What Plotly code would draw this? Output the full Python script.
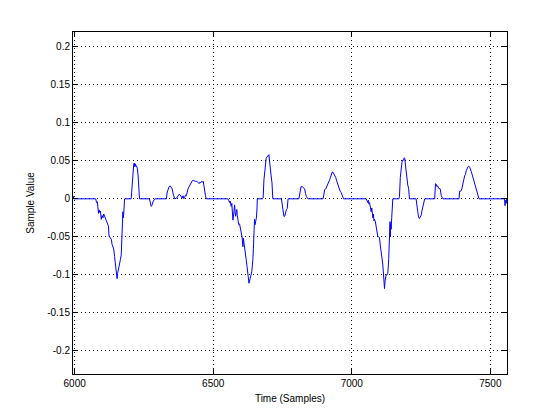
import plotly.graph_objects as go

# ---- data (sample index, sample value) ----
cycle1_x = [5994, 5996, 5997, 6076, 6079, 6082, 6084, 6086, 6088, 6091, 6093, 6096, 6099, 6102, 6105, 6108,
            6112, 6116, 6120, 6122, 6124, 6128, 6132, 6135, 6138, 6141, 6144, 6147, 6150, 6153, 6155, 6158,
            6160, 6162, 6165, 6168, 6170, 6172, 6174, 6175, 6177, 6178, 6180, 6204, 6206, 6208, 6211, 6213,
            6215, 6217, 6219, 6221, 6224, 6226, 6229, 6231, 6234, 6270, 6273, 6276, 6278, 6281, 6284, 6289,
            6331, 6334, 6337, 6341, 6345, 6349, 6352, 6355, 6359, 6361, 6368, 6373, 6377, 6381, 6385, 6388,
            6391, 6394, 6397, 6400, 6403, 6406, 6409, 6413, 6417, 6421, 6425, 6430, 6435, 6441, 6445, 6449,
            6452, 6455, 6458, 6462, 6464, 6467, 6469, 6472, 6475]
cycle1_y = [0.002, 0.003, 0.0, 0.0, -0.005, -0.004, -0.012, -0.019, -0.0145, -0.018, -0.016, -0.027, -0.022, -0.025, -0.020, -0.023,
            -0.028, -0.030, -0.035, -0.036, -0.049, -0.051, -0.053, -0.060, -0.065, -0.066, -0.076, -0.086, -0.100, -0.105, -0.098, -0.093,
            -0.088, -0.089, -0.080, -0.074, -0.060, -0.041, -0.017, -0.025, -0.020, -0.012, 0.0, 0.0, 0.010, 0.027, 0.037, 0.045,
            0.047, 0.042, 0.046, 0.043, 0.043, 0.040, 0.030, 0.021, 0.0, 0.0, -0.006, -0.010, -0.009, -0.004, -0.003, 0.0,
            0.0, 0.009, 0.013, 0.016, 0.017, 0.014, 0.013, 0.007, 0.002, 0.0, 0.001, 0.004, 0.006, 0.005, 0.002, 0.001,
            0.004, 0.0, 0.002, 0.005, 0.004, 0.010, 0.013, 0.016, 0.019, 0.022, 0.024, 0.024, 0.023, 0.023, 0.021, 0.020,
            0.022, 0.021, 0.023, 0.022, 0.023, 0.014, 0.010, 0.004, 0.0]

cycle2_x = [6553, 6556, 6559, 6561, 6563, 6565, 6567, 6569, 6571, 6574, 6577, 6579, 6581, 6583, 6585, 6587,
            6589, 6592, 6595, 6598, 6601, 6604, 6607, 6609, 6611, 6613, 6616, 6619, 6622, 6625, 6627, 6629,
            6631, 6633, 6636, 6639, 6641, 6643, 6645, 6646, 6648, 6649, 6651, 6653, 6656, 6658, 6659, 6677,
            6680, 6683, 6686, 6688, 6691, 6694, 6697, 6701, 6703, 6706, 6709, 6712, 6715, 6746, 6749, 6752,
            6755, 6758, 6761, 6764, 6767, 6770, 6809, 6812, 6814, 6817, 6821, 6825, 6830, 6833, 6836, 6842,
            6896, 6899, 6902, 6906, 6910, 6915, 6920, 6923, 6926, 6929, 6932, 6935, 6938, 6942, 6946, 6950,
            6954, 6958, 6962, 6966, 6970]
cycle2_y = [0.0, -0.002, -0.005, -0.003, -0.008, -0.010, -0.006, -0.020, -0.028, -0.020, -0.008, -0.018, -0.023, -0.017, -0.014, -0.022,
            -0.026, -0.034, -0.033, -0.039, -0.041, -0.050, -0.063, -0.052, -0.058, -0.066, -0.078, -0.080, -0.089, -0.100, -0.104, -0.111,
            -0.108, -0.103, -0.101, -0.096, -0.090, -0.080, -0.065, -0.050, -0.035, -0.027, -0.034, -0.030, -0.024, -0.012, 0.0, 0.0,
            0.001, 0.025, 0.040, 0.051, 0.053, 0.055, 0.056, 0.058, 0.050, 0.034, 0.030, 0.021, 0.0, 0.0, -0.008, -0.019,
            -0.023, -0.023, -0.018, -0.014, -0.013, 0.0, 0.0, 0.008, 0.013, 0.016, 0.016, 0.015, 0.013, 0.007, 0.003, 0.0,
            0.0, 0.005, 0.012, 0.013, 0.016, 0.020, 0.025, 0.028, 0.032, 0.035, 0.035, 0.033, 0.032, 0.028, 0.023, 0.018,
            0.014, 0.010, 0.008, 0.004, 0.0]

cycle3_x = [7052, 7055, 7058, 7060, 7062, 7064, 7067, 7070, 7072, 7074, 7076, 7078, 7080, 7082, 7085, 7088,
            7091, 7094, 7097, 7100, 7103, 7106, 7109, 7112, 7115, 7117, 7118, 7120, 7122, 7124, 7127, 7130,
            7133, 7135, 7137, 7138, 7139, 7140, 7142, 7144, 7146, 7148, 7170, 7172, 7175, 7178, 7181, 7184,
            7187, 7189, 7191, 7194, 7197, 7199, 7202, 7205, 7208, 7232, 7235, 7238, 7241, 7244, 7247, 7251,
            7253, 7256, 7259, 7263, 7299, 7301, 7302, 7305, 7307, 7310, 7313, 7319, 7321, 7323, 7329, 7387,
            7389, 7393, 7397, 7401, 7404, 7407, 7410, 7413, 7416, 7419, 7422, 7426, 7431, 7434, 7437, 7440,
            7443, 7446, 7449, 7451, 7455, 7459, 7551, 7553, 7554, 7555, 7557, 7559]
cycle3_y = [0.0, -0.003, -0.005, -0.002, -0.007, -0.005, -0.010, -0.017, -0.012, -0.022, -0.025, -0.020, -0.029, -0.027, -0.030, -0.036,
            -0.045, -0.050, -0.050, -0.051, -0.062, -0.074, -0.078, -0.087, -0.100, -0.113, -0.118, -0.108, -0.103, -0.100, -0.100, -0.098,
            -0.080, -0.063, -0.045, -0.030, -0.050, -0.033, -0.040, -0.025, -0.017, 0.0, 0.0, 0.003, 0.028, 0.045, 0.048, 0.051,
            0.051, 0.054, 0.053, 0.043, 0.030, 0.023, 0.018, 0.014, 0.0, 0.0, -0.006, -0.017, -0.024, -0.026, -0.024, -0.021,
            -0.016, -0.011, -0.008, 0.0, 0.0, 0.012, 0.020, 0.019, 0.016, 0.017, 0.014, 0.013, 0.009, 0.004, 0.0, 0.0,
            0.010, 0.010, 0.013, 0.023, 0.025, 0.030, 0.032, 0.037, 0.040, 0.042, 0.043, 0.041, 0.036, 0.032, 0.027, 0.024,
            0.020, 0.017, 0.012, 0.008, 0.004, 0.0, 0.0, -0.009, -0.004, -0.002, -0.006, 0.0]

x_tick_values = [6000, 6500, 7000, 7500]
y_tick_values = [-0.2, -0.15, -0.1, -0.05, 0, 0.05, 0.1, 0.15, 0.2]
y_tick_labels = ["-0.2", "-0.15", "-0.1", "-0.05", "0", "0.05", "0.1", "0.15", "0.2"]

sample_index = cycle1_x + cycle2_x + cycle3_x
sample_value = cycle1_y + cycle2_y + cycle3_y
assert len(sample_index) == len(sample_value)

fig = go.Figure()
fig.add_trace(go.Scatter(x=sample_index, y=sample_value, mode="lines",
                         line=dict(color="#0000ff", width=1), showlegend=False))

font = dict(family="Liberation Sans, Arial, sans-serif", size=10, color="black")
axis_common = dict(showline=True, linecolor="black", linewidth=1, mirror="ticks",
                   ticks="inside", ticklen=5, tickcolor="black", tickwidth=1,
                   showgrid=True, gridcolor="black", griddash="1px,3px", gridwidth=1,
                   zeroline=False, tickfont=font)

fig.update_layout(
    width=560, height=420,
    paper_bgcolor="white", plot_bgcolor="white",
    margin=dict(l=65, r=61, t=24, b=54, pad=0),
    font=font,
    xaxis=dict(range=[5994, 7560], tickmode="array", tickvals=x_tick_values,
               title=dict(text="Time (Samples)", font=font, standoff=6), **axis_common),
    yaxis=dict(range=[-0.2303, 0.2193], tickmode="array", tickvals=y_tick_values,
               ticktext=y_tick_labels,
               title=dict(text="Sample Value", font=font, standoff=10), **axis_common),
)

fig.write_html("out.html")
